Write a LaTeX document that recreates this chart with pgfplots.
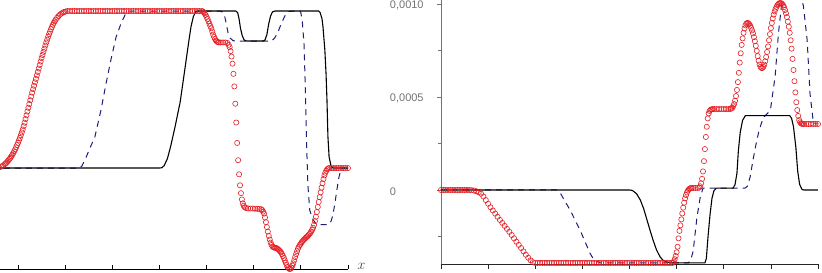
\documentclass[border=0pt]{standalone}
\usepackage{pgfplots}
\pgfplotsset{compat=1.18}
\usepackage{pgfplotstable}
\usepackage{fontspec}
\newfontfamily\lab{Liberation Sans}
\definecolor{myred}{RGB}{228,30,36}
\definecolor{myblue}{RGB}{30,30,120}

\pgfplotstableread{
u y
-1 0
3.00 0
3.05 0.002
3.10 0.015
3.17 0.06
3.24 0.14
3.33 0.26
3.44 0.42
3.54 0.63
3.62 0.80
3.67 0.90
3.72 0.965
3.77 0.995
3.82 1
4.62 1
4.66 0.99
4.69 0.95
4.72 0.89
4.76 0.84
4.80 0.815
4.85 0.809
5.20 0.809
5.24 0.815
5.28 0.85
5.32 0.92
5.36 0.97
5.40 0.995
5.45 1
6.38 1
6.41 0.99
6.45 0.95
6.47 0.90
6.51 0.75
6.535 0.60
6.555 0.43
6.575 0.20
6.60 0.07
6.64 0.015
6.68 0
7.0 0
}\blackL

\pgfplotstableread{
u y
-1 0
1.27 0
1.35 0.01
1.44 0.065
1.53 0.13
1.63 0.197
1.76 0.369
1.87 0.541
1.97 0.688
2.08 0.834
2.19 0.924
2.29 0.987
2.35 1
4.30 1
4.35 0.99
4.39 0.96
4.43 0.90
4.46 0.855
4.50 0.828
4.56 0.812
4.60 0.809
5.35 0.809
5.40 0.815
5.45 0.83
5.52 0.87
5.60 0.93
5.68 0.98
5.75 0.997
5.82 1
5.98 1
6.00 0.99
6.03 0.94
6.07 0.78
6.09 0.56
6.11 0.31
6.13 0.08
6.15 -0.11
6.19 -0.27
6.26 -0.33
6.34 -0.36
6.58 -0.36
6.64 -0.34
6.68 -0.30
6.72 -0.23
6.76 -0.15
6.80 -0.07
6.84 -0.02
6.88 0
7.0 0
}\blueL

\pgfplotstableread{
u y
-0.70 0
-0.65 0
-0.60 0
-0.55 0
-0.50 0
-0.45 0
-0.40 0.004
-0.36 0.009
-0.32 0.016
-0.28 0.025
-0.26 0.030
-0.24 0.036
-0.22 0.043
-0.20 0.050
-0.18 0.058
-0.16 0.066
-0.14 0.075
-0.12 0.085
-0.10 0.095
-0.08 0.107
-0.06 0.119
-0.04 0.132
-0.02 0.146
0.00 0.160
0.02 0.176
0.04 0.192
0.06 0.209
0.08 0.227
0.10 0.245
0.12 0.267
0.14 0.289
0.16 0.312
0.18 0.336
0.20 0.360
0.22 0.384
0.24 0.408
0.26 0.432
0.28 0.456
0.30 0.480
0.32 0.502
0.34 0.524
0.36 0.546
0.38 0.568
0.40 0.590
0.42 0.612
0.44 0.634
0.46 0.656
0.48 0.678
0.50 0.700
0.52 0.720
0.54 0.740
0.56 0.760
0.58 0.780
0.60 0.800
0.62 0.818
0.64 0.836
0.66 0.853
0.68 0.869
0.70 0.885
0.72 0.899
0.74 0.913
0.76 0.925
0.78 0.935
0.80 0.945
0.83 0.957
0.86 0.968
0.89 0.977
0.92 0.984
0.95 0.990
0.98 0.994
1.01 0.997
1.05 1
1.10 1
1.15 1
1.20 1
1.25 1
1.30 1
1.35 1
1.40 1
1.45 1
1.50 1
1.55 1
1.60 1
1.65 1
1.70 1
1.75 1
1.80 1
1.85 1
1.90 1
1.95 1
2.00 1
2.05 1
2.10 1
2.15 1
2.20 1
2.25 1
2.30 1
2.35 1
2.40 1
2.45 1
2.50 1
2.55 1
2.60 1
2.65 1
2.70 1
2.75 1
2.80 1
2.85 1
2.90 1
2.95 1
3.00 1
3.05 1
3.10 1
3.15 1
3.20 1
3.25 1
3.30 1
3.35 1
3.40 1
3.45 1
3.50 1
3.55 1
3.60 1
3.65 1
3.70 1
3.75 1
3.80 1
3.85 1
3.90 1
3.92 0.998
3.94 0.993
3.96 0.985
3.98 0.975
4.00 0.963
4.02 0.950
4.04 0.935
4.06 0.920
4.08 0.905
4.10 0.890
4.12 0.870
4.14 0.850
4.16 0.835
4.18 0.822
4.20 0.812
4.22 0.806
4.24 0.802
4.26 0.800
4.30 0.800
4.35 0.800
4.40 0.800
4.44 0.797
4.47 0.785
4.49 0.770
4.51 0.745
4.53 0.710
4.55 0.665
4.57 0.600
4.59 0.520
4.61 0.410
4.63 0.290
4.65 0.160
4.67 0.050
4.69 -0.040
4.71 -0.110
4.73 -0.160
4.75 -0.200
4.77 -0.225
4.79 -0.240
4.81 -0.250
4.84 -0.255
4.88 -0.257
4.93 -0.258
4.98 -0.258
5.03 -0.259
5.08 -0.260
5.12 -0.260
5.16 -0.262
5.18 -0.268
5.20 -0.278
5.22 -0.290
5.24 -0.315
5.26 -0.345
5.28 -0.376
5.30 -0.405
5.32 -0.432
5.34 -0.455
5.36 -0.475
5.38 -0.490
5.40 -0.500
5.42 -0.505
5.44 -0.507
5.46 -0.508
5.48 -0.510
5.50 -0.513
5.52 -0.518
5.54 -0.523
5.56 -0.530
5.58 -0.537
5.60 -0.548
5.62 -0.560
5.64 -0.573
5.66 -0.588
5.68 -0.603
5.70 -0.618
5.72 -0.630
5.74 -0.638
5.76 -0.643
5.78 -0.642
5.80 -0.634
5.82 -0.622
5.84 -0.607
5.86 -0.588
5.88 -0.567
5.90 -0.548
5.92 -0.530
5.94 -0.513
5.96 -0.500
5.98 -0.490
6.00 -0.481
6.02 -0.472
6.04 -0.465
6.06 -0.458
6.08 -0.452
6.10 -0.446
6.12 -0.440
6.14 -0.435
6.16 -0.428
6.18 -0.421
6.20 -0.414
6.22 -0.404
6.24 -0.393
6.26 -0.380
6.28 -0.362
6.30 -0.338
6.32 -0.310
6.34 -0.280
6.36 -0.248
6.38 -0.216
6.40 -0.185
6.42 -0.155
6.44 -0.125
6.46 -0.097
6.48 -0.070
6.50 -0.047
6.52 -0.030
6.54 -0.017
6.56 -0.008
6.58 -0.003
6.60 0
6.65 0
6.70 0
6.75 0
6.80 0
6.85 0
6.90 0
6.95 0
7.00 0
}\redL

\pgfplotstableread{
v y
0 0
4.00 0
4.06 -0.02
4.15 -0.2
4.23 -0.54
4.30 -1.0
4.37 -1.6
4.44 -2.2
4.50 -2.69
4.57 -3.2
4.65 -3.6
4.72 -3.8
4.80 -3.88
4.93 -3.92
5.60 -3.92
5.63 -3.7
5.67 -2.4
5.71 -1.3
5.75 -0.45
5.79 -0.05
5.84 0.1
6.20 0.1
6.24 0.3
6.28 0.9
6.31 2.1
6.35 3.1
6.40 3.75
6.46 4.0
7.40 4.0
7.44 3.85
7.48 3.4
7.53 2.3
7.57 1.0
7.61 0.3
7.66 0.03
7.70 0
8.00 0
}\blackR

\pgfplotstableread{
v y
0 0
2.45 0
2.53 -0.16
2.74 -1.08
2.95 -2.15
3.16 -3.39
3.25 -3.78
3.38 -3.92
5.25 -3.92
5.30 -3.75
5.35 -3.3
5.43 -1.5
5.50 -0.4
5.56 0.1
6.45 0.1
6.50 0.2
6.56 0.7
6.62 1.6
6.68 2.4
6.74 3.1
6.80 3.6
6.86 3.95
6.94 4.15
6.99 4.3
7.09 6.1
7.16 8.4
7.22 9.8
7.28 10.6
7.62 10.6
7.69 9.9
7.77 8.06
7.83 5.2
7.90 3.66
7.95 3.55
8.00 3.55
}\blueR

\pgfplotstableread{
v y
0.00 0
0.05 0
0.10 0
0.15 0
0.20 0
0.25 0
0.30 0
0.35 0
0.40 0
0.45 0
0.50 0
0.55 0
0.60 0
0.65 -0.01
0.70 -0.03
0.75 -0.07
0.80 -0.12
0.85 -0.20
0.90 -0.35
0.95 -0.54
1.00 -0.74
1.05 -0.93
1.10 -1.10
1.15 -1.27
1.20 -1.44
1.25 -1.61
1.30 -1.77
1.35 -1.93
1.40 -2.09
1.45 -2.25
1.50 -2.42
1.55 -2.60
1.60 -2.78
1.65 -2.95
1.70 -3.12
1.75 -3.30
1.80 -3.48
1.85 -3.64
1.90 -3.78
1.95 -3.88
2.00 -3.92
2.05 -3.92
2.10 -3.92
2.15 -3.92
2.20 -3.92
2.25 -3.92
2.30 -3.92
2.35 -3.92
2.40 -3.92
2.45 -3.92
2.50 -3.92
2.55 -3.92
2.60 -3.92
2.65 -3.92
2.70 -3.92
2.75 -3.92
2.80 -3.92
2.85 -3.92
2.90 -3.92
2.95 -3.92
3.00 -3.92
3.05 -3.92
3.10 -3.92
3.15 -3.92
3.20 -3.92
3.25 -3.92
3.30 -3.92
3.35 -3.92
3.40 -3.92
3.45 -3.92
3.50 -3.92
3.55 -3.92
3.60 -3.92
3.65 -3.92
3.70 -3.92
3.75 -3.92
3.80 -3.92
3.85 -3.92
3.90 -3.92
3.95 -3.92
4.00 -3.92
4.05 -3.92
4.10 -3.92
4.15 -3.92
4.20 -3.92
4.25 -3.92
4.30 -3.92
4.35 -3.92
4.40 -3.92
4.45 -3.92
4.50 -3.92
4.55 -3.92
4.60 -3.92
4.65 -3.92
4.70 -3.92
4.75 -3.92
4.80 -3.92
4.85 -3.92
4.90 -3.92
4.92 -3.91
4.94 -3.85
4.96 -3.72
4.98 -3.55
5.00 -3.35
5.02 -3.05
5.04 -2.60
5.06 -2.20
5.08 -1.90
5.10 -1.58
5.12 -1.26
5.14 -0.95
5.16 -0.68
5.18 -0.45
5.20 -0.27
5.22 -0.13
5.24 -0.03
5.26 0.04
5.28 0.08
5.30 0.10
5.32 0.11
5.35 0.11
5.40 0.11
5.45 0.11
5.48 0.13
5.50 0.20
5.52 0.36
5.54 0.60
5.56 1.00
5.58 1.55
5.60 2.20
5.62 2.85
5.64 3.40
5.66 3.85
5.68 4.12
5.70 4.25
5.72 4.31
5.74 4.34
5.77 4.35
5.80 4.35
5.85 4.35
5.90 4.35
5.95 4.35
6.00 4.35
6.05 4.35
6.10 4.35
6.14 4.36
6.16 4.38
6.18 4.42
6.20 4.50
6.22 4.62
6.24 4.80
6.26 5.05
6.28 5.38
6.30 5.80
6.32 6.30
6.34 6.85
6.36 7.35
6.38 7.80
6.40 8.15
6.42 8.45
6.44 8.68
6.46 8.85
6.48 8.95
6.50 8.98
6.52 8.97
6.54 8.92
6.56 8.84
6.58 8.72
6.60 8.58
6.62 8.42
6.64 8.22
6.66 8.00
6.68 7.75
6.70 7.48
6.72 7.20
6.74 6.95
6.76 6.75
6.78 6.62
6.80 6.56
6.82 6.56
6.84 6.62
6.86 6.74
6.88 6.92
6.90 7.15
6.92 7.42
6.94 7.72
6.96 8.05
6.98 8.38
7.00 8.70
7.02 8.98
7.04 9.22
7.06 9.43
7.08 9.60
7.10 9.74
7.12 9.85
7.14 9.94
7.16 10.00
7.18 10.04
7.20 10.05
7.22 10.04
7.24 10.00
7.26 9.93
7.28 9.83
7.30 9.68
7.32 9.50
7.34 9.30
7.36 9.05
7.38 8.78
7.40 8.45
7.42 8.05
7.44 7.60
7.46 7.05
7.48 6.45
7.50 5.85
7.52 5.25
7.54 4.72
7.56 4.30
7.58 3.98
7.60 3.76
7.62 3.64
7.64 3.58
7.66 3.56
7.68 3.55
7.70 3.55
7.75 3.55
7.80 3.55
7.85 3.55
7.90 3.55
7.95 3.55
8.00 3.55
}\redR

\pgfplotsset{
  blk/.style={black, line width=1.1pt},
  blu/.style={myblue, line width=1.0pt, dash pattern=on 6pt off 5pt},
  rd/.style={only marks, mark=o, mark size=2.6pt, myred, mark options={line width=0.6pt}},
}

\begin{document}
\begin{tikzpicture}
\useasboundingbox (0,0) rectangle (822pt,273pt);
\clip (0,0) rectangle (822pt,273pt);
\begin{axis}[
  at={(-29.14pt,4pt)}, anchor=south west, scale only axis,
  width=377.1pt, height=273.65pt,
  xmin=-1, xmax=7, ymin=-0.643, ymax=1.1,
  axis x line*=bottom, axis y line=none,
  xtick={-1,0,1,2,3,4,5,6,7}, xticklabels={}, ytick=\empty,
  tick align=inside, major tick length=4pt,
  x axis line style={black, line width=0.7pt},
  xtick style={black, line width=0.7pt},
  clip=false,
  xlabel={$x$},
  xlabel style={at={(rel axis cs:1,0)}, anchor=base west, xshift=6pt, yshift=-1pt,
    font=\fontsize{15}{16}\selectfont, text=black!75},
]
\addplot[blu] table {\blueL};
\addplot[blk] table {\blackL};
\addplot[rd] table {\redL};
\end{axis}

\begin{axis}[
  at={(441pt,8.6pt)}, anchor=south west, scale only axis,
  width=377pt, height=269.7pt,
  xmin=0, xmax=8, ymin=-4, ymax=10.5,
  axis x line*=bottom, axis y line*=left,
  xtick={0,1,2,3,4,5,6,7,8}, xticklabels={},
  ytick={0,5,10}, minor ytick={-2.5,2.5,7.5},
  yticklabels={{\makebox[37pt][l]{0}},{\makebox[37pt][l]{0,0005}},{\makebox[37pt][l]{0,0010}}},
  yticklabel style={font=\lab\fontsize{11}{12}\selectfont, text=black!55, xshift=-6pt, yshift=-1.5pt},
  tick align=outside, major tick length=4.5pt, minor tick length=3pt,
  x axis line style={black!85, line width=0.7pt},
  y axis line style={black!55, line width=0.9pt},
  xtick style={black!85, line width=0.7pt},
  ytick style={black!55, line width=0.7pt},
  clip=false,
]
\addplot[blu] table {\blueR};
\addplot[blk] table {\blackR};
\addplot[rd] table {\redR};
\end{axis}
\end{tikzpicture}
\end{document}
